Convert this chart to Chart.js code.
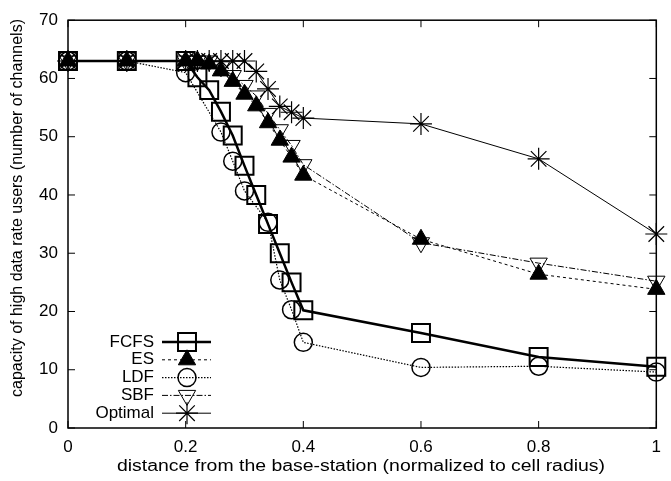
<!DOCTYPE html>
<html>
<head>
<meta charset="utf-8">
<script src="https://cdn.jsdelivr.net/npm/chart.js@4.4.1/dist/chart.umd.min.js"></script>
<style>
  html, body { margin: 0; padding: 0; background: #fff; }
  #wrap { width: 671px; height: 481px; }
</style>
</head>
<body>
<div id="wrap"><canvas id="chart"></canvas></div>
<script>
// values
let fcfsX = [0, 0.1, 0.2, 0.22, 0.24, 0.26, 0.28, 0.3, 0.32, 0.34, 0.36, 0.38, 0.4, 0.6, 0.8, 1];
let fcfsY = [63, 63, 63, 60.2, 58, 54.3, 50.2, 45, 40, 35, 30, 25, 20.2, 16.3, 12.2, 10.5];

let esX = [0, 0.1, 0.2, 0.22, 0.24, 0.26, 0.28, 0.3, 0.32, 0.34, 0.36, 0.38, 0.4, 0.6, 0.8, 1];
let esY = [63, 63, 63, 63, 62.5, 61.3, 59.5, 57.3, 55.3, 52.4, 49.4, 46.5, 43.4, 32.4, 26.4, 23.8];

let ldfX = [0, 0.1, 0.2, 0.26, 0.28, 0.3, 0.34, 0.36, 0.38, 0.4, 0.6, 0.8, 1];
let ldfY = [63, 63, 61, 50.8, 45.8, 40.7, 35.3, 25.4, 20.3, 14.7, 10.4, 10.6, 9.6];

let sbfX = [0, 0.1, 0.2, 0.22, 0.24, 0.26, 0.28, 0.3, 0.32, 0.34, 0.36, 0.38, 0.4, 0.6, 0.8, 1];
let sbfY = [63, 63, 63, 63, 63, 62, 60.5, 58.8, 57, 54, 51.2, 48.5, 45.2, 31.8, 28.3, 25.2];

let optX = [0, 0.1, 0.2, 0.22, 0.24, 0.26, 0.28, 0.3, 0.32, 0.34, 0.36, 0.38, 0.4, 0.6, 0.8, 1];
let optY = [63, 63, 63, 63, 63, 63, 63, 63, 61.2, 58.2, 55.2, 54.2, 53.2, 52.2, 46.2, 33.3];

let seriesNames = ["FCFS", "ES", "LDF", "SBF", "Optimal"];
let xTicks = [0, 0.2, 0.4, 0.6, 0.8, 1];
let yTicks = [0, 10, 20, 30, 40, 50, 60, 70];
let xTitle = "distance from the base-station (normalized to cell radius)";
let yTitle = "capacity of high data rate users (number of channels)";

let font = "'Liberation Sans', Arial, Helvetica, sans-serif";
let clear = "rgba(0,0,0,0)";

function pts(xs, ys) {
  let out = [];
  for (let i = 0; i < xs.length; i++) {
    out.push({ x: xs[i], y: ys[i] });
  }
  return out;
}

// box round the plot, inward ticks on all four sides, titles, key inside bottom left
let framePlugin = {
  id: "frame",
  afterDatasetsDraw(chart) {
    let ctx = chart.ctx;
    let a = chart.chartArea;
    let xs = chart.scales.x;
    let ys = chart.scales.y;
    ctx.save();
    ctx.strokeStyle = "#000";
    ctx.lineWidth = 1.5;
    ctx.strokeRect(a.left, a.top, a.right - a.left, a.bottom - a.top);
    ctx.lineWidth = 1;
    ctx.beginPath();
    xTicks.forEach((v) => {
      let px = xs.getPixelForValue(v);
      ctx.moveTo(px, a.bottom);
      ctx.lineTo(px, a.bottom - 7);
      ctx.moveTo(px, a.top);
      ctx.lineTo(px, a.top + 7);
    });
    yTicks.forEach((v) => {
      let py = ys.getPixelForValue(v);
      ctx.moveTo(a.left, py);
      ctx.lineTo(a.left + 7, py);
      ctx.moveTo(a.right, py);
      ctx.lineTo(a.right - 7, py);
    });
    ctx.stroke();

    // axis titles (the original figure is a little stretched sideways)
    ctx.fillStyle = "#000";
    ctx.font = "16px " + font;
    ctx.textAlign = "center";
    ctx.textBaseline = "middle";
    ctx.save();
    let w = ctx.measureText(xTitle).width;
    ctx.translate(361, 467);
    ctx.scale(488 / w, 1);
    ctx.fillText(xTitle, 0, 0);
    ctx.restore();
    ctx.save();
    ctx.translate(18, 208);
    ctx.rotate(-Math.PI / 2);
    ctx.fillText(yTitle, 0, 0);
    ctx.restore();

    // key
    let rowY = 342;
    ctx.font = "17px " + font;
    ctx.textAlign = "right";
    chart.data.datasets.forEach((ds, i) => {
      let y = rowY + i * 17.8;
      ctx.fillStyle = "#000";
      ctx.fillText(ds.label, 154, y);
      ctx.save();
      ctx.strokeStyle = "#000";
      ctx.lineWidth = ds.borderWidth;
      ctx.setLineDash(ds.borderDash || []);
      ctx.beginPath();
      ctx.moveTo(162, y);
      ctx.lineTo(211, y);
      ctx.stroke();
      ctx.restore();
      ctx.save();
      ctx.strokeStyle = "#000";
      ctx.fillStyle = ds.pointBackgroundColor;
      ctx.lineWidth = ds.pointBorderWidth;
      Chart.helpers.drawPoint(ctx, {
        pointStyle: ds.pointStyle,
        radius: ds.pointRadius,
        rotation: ds.pointRotation || 0,
        borderWidth: ds.pointBorderWidth,
      }, 187, y);
      ctx.restore();
    });
    ctx.restore();
  },
};

let config = {
  type: "scatter",
  data: {
    datasets: [
      {
        label: seriesNames[0],
        data: pts(fcfsX, fcfsY),
        showLine: true,
        borderColor: "#000",
        borderWidth: 2.5,
        pointStyle: "rect",
        pointRadius: 12.7,
        pointBorderWidth: 2,
        pointBorderColor: "#000",
        pointBackgroundColor: clear,
      },
      {
        label: seriesNames[1],
        data: pts(esX, esY),
        showLine: true,
        borderColor: "#000",
        borderWidth: 1,
        borderDash: [3, 3],
        pointStyle: "triangle",
        pointRadius: 10,
        pointBorderWidth: 1,
        pointBorderColor: "#000",
        pointBackgroundColor: "#000",
      },
      {
        label: seriesNames[2],
        data: pts(ldfX, ldfY),
        showLine: true,
        borderColor: "#000",
        borderWidth: 1.2,
        borderDash: [1.5, 1.5],
        pointStyle: "circle",
        pointRadius: 9,
        pointBorderWidth: 1.5,
        pointBorderColor: "#000",
        pointBackgroundColor: clear,
      },
      {
        label: seriesNames[3],
        data: pts(sbfX, sbfY),
        showLine: true,
        borderColor: "#000",
        borderWidth: 1,
        borderDash: [6, 2, 1.5, 2],
        pointStyle: "triangle",
        pointRotation: 180,
        pointRadius: 10,
        pointBorderWidth: 1,
        pointBorderColor: "#000",
        pointBackgroundColor: clear,
      },
      {
        label: seriesNames[4],
        data: pts(optX, optY),
        showLine: true,
        borderColor: "#000",
        borderWidth: 1,
        pointStyle: "star",
        pointRadius: 11,
        pointBorderWidth: 1.2,
        pointBorderColor: "#000",
        pointBackgroundColor: clear,
      },
    ],
  },
  options: {
    responsive: true,
    maintainAspectRatio: false,
    animation: false,
    clip: false,
    layout: { padding: { top: 15, right: 5, left: 0, bottom: 0 } },
    plugins: {
      legend: { display: false },
      tooltip: { enabled: false },
    },
    scales: {
      x: {
        type: "linear",
        min: 0,
        max: 1,
        afterFit: (s) => { s.height = 53; },
        afterBuildTicks: (s) => { s.ticks = xTicks.map((v) => ({ value: v })); },
        grid: { display: false, drawTicks: false },
        border: { display: false },
        ticks: {
          color: "#000",
          padding: 9,
          font: { family: font, size: 17 },
          callback: (v) => String(Number(v.toFixed(1))),
        },
      },
      y: {
        type: "linear",
        min: 0,
        max: 70,
        afterFit: (s) => { s.width = 68; },
        afterBuildTicks: (s) => { s.ticks = yTicks.map((v) => ({ value: v })); },
        grid: { display: false, drawTicks: false },
        border: { display: false },
        ticks: {
          color: "#000",
          padding: 10,
          font: { family: font, size: 17 },
        },
      },
    },
  },
  plugins: [framePlugin],
};

let chart = new Chart(document.getElementById("chart"), config);
</script>
</body>
</html>
